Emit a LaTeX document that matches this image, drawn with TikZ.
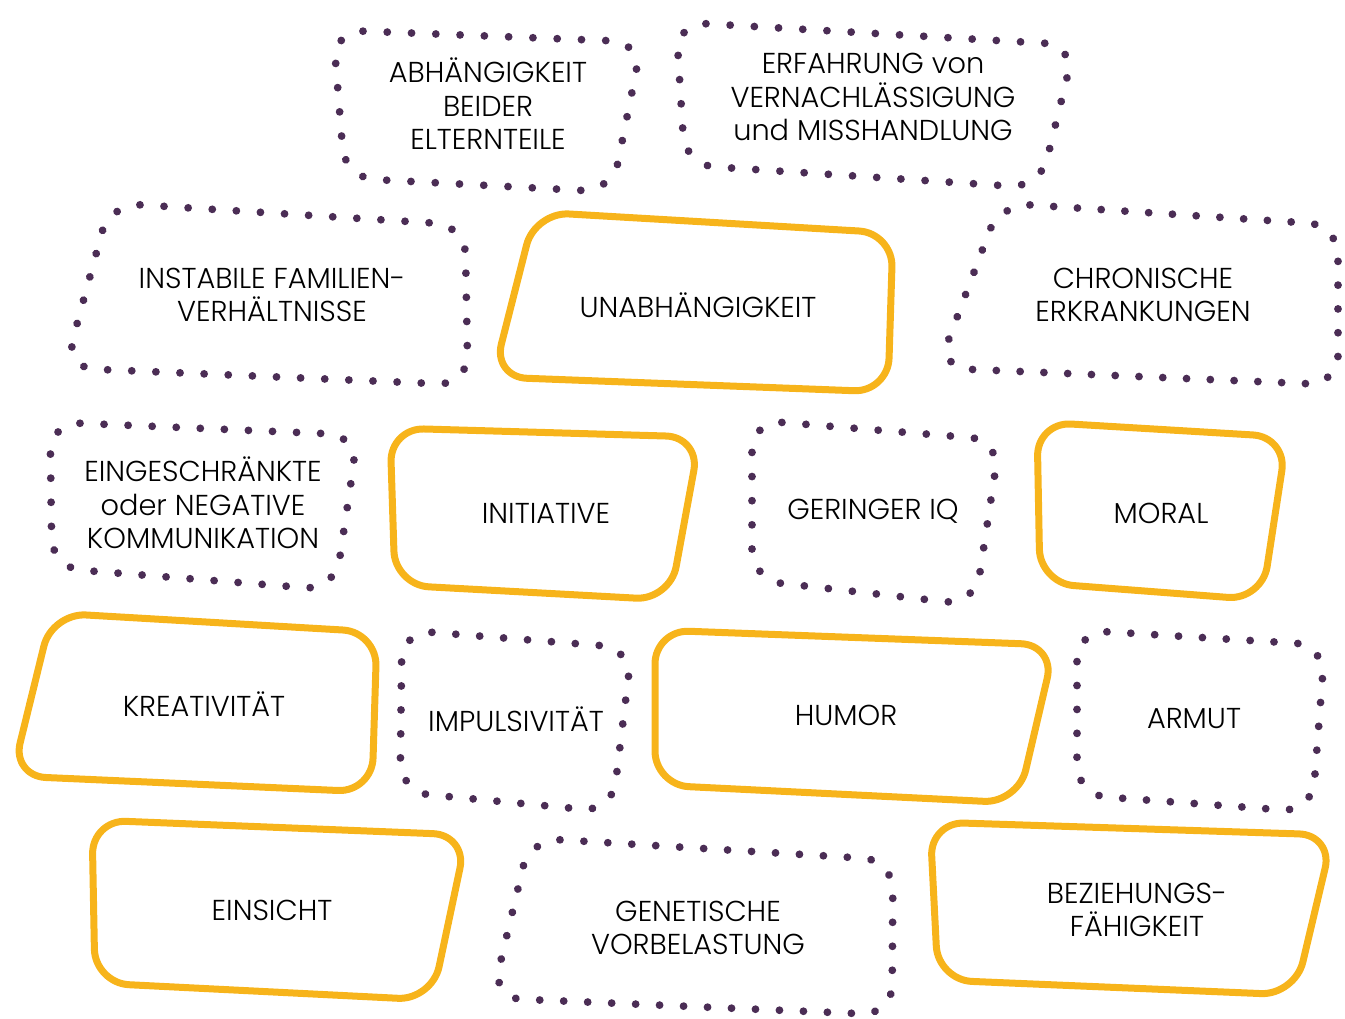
\documentclass[tikz,border=0pt]{standalone}
\usepackage{fontspec}
\usetikzlibrary{decorations.markings}
\setmainfont{Poppins Light}
\definecolor{gold}{HTML}{F7B41B}
\definecolor{plum}{HTML}{4B2D55}
\begin{document}
\begin{tikzpicture}[x=1pt, y=-1pt]
        \tikzstyle{strength}=[draw=gold, line width=7pt, rounded corners=34pt, line join=round];
        \tikzstyle{risk}=[rounded corners=30pt, decoration={markings, mark=between positions 0 and 0.999 step 1/#1 with {\fill[plum] (0,0) circle (3.9pt);}}, postaction={decorate}];
        \tikzstyle{label}=[align=center, font=\fontsize{28.8}{33.5}\selectfont, text=black];

        \useasboundingbox (0,0) rectangle (1345,1019);

        \path[risk=34] (333,30) -- (642,42) -- (612,192) -- (345,178) -- cycle;
        \node[label] (eltern) at (488,104) {ABHÄNGIGKEIT\\BEIDER\\ELTERNTEILE};

        \path[risk=41] (676,22) -- (1075,45) -- (1040,188) -- (685,165) -- cycle;
        \node[label] (vernachl) at (873,97) {ERFAHRUNG von\\VERNACHLÄSSIGUNG\\und MISSHANDLUNG};

        \path[risk=43] (110,203) -- (465,225) -- (468,385) -- (65,368) -- cycle;
        \node[label] (familie) at (272,295) {INSTABILE FAMILIEN-\\VERHÄLTNISSE};

        \draw[strength] (535,212) -- (893,233) -- (888,392) -- (493,377) -- cycle;
        \node[label] (unabh) at (698,305) {UNABHÄNGIGKEIT};

        \path[risk=43] (1000,203) -- (1338,225) -- (1338,385) -- (938,368) -- cycle;
        \node[label] (chronisch) at (1143,295) {CHRONISCHE\\ERKRANKUNGEN};

        \path[risk=35] (50,422) -- (358,435) -- (335,590) -- (52,568) -- cycle;
        \node[label] (kommunik) at (203,503) {EINGESCHRÄNKTE\\oder NEGATIVE\\KOMMUNIKATION};

        \draw[strength] (390,428) -- (700,437) -- (670,600) -- (395,585) -- cycle;
        \node[label] (initiative) at (546,513) {INITIATIVE};

        \path[risk=31] (752,420) -- (1000,440) -- (975,605) -- (752,580) -- cycle;
        \node[label] (iq) at (873,511) {GERINGER IQ};

        \draw[strength] (1037,422) -- (1287,437) -- (1262,600) -- (1040,583) -- cycle;
        \node[label] (moral) at (1161,513) {MORAL};

        \draw[strength] (52,613) -- (377,632) -- (372,792) -- (12,776) -- cycle;
        \node[label] (kreativ) at (204,704) {KREATIVITÄT};

        \path[risk=30] (402,630) -- (632,648) -- (612,812) -- (400,792) -- cycle;
        \node[label] (impuls) at (516,719) {IMPULSIVITÄT};

        \draw[strength] (655,630) -- (1055,645) -- (1018,803) -- (655,785) -- cycle;
        \node[label] (humor) at (846,715) {HUMOR};

        \path[risk=32] (1077,630) -- (1325,645) -- (1312,812) -- (1077,795) -- cycle;
        \node[label] (armut) at (1194,719) {ARMUT};

        \draw[strength] (92,820) -- (467,835) -- (432,1000) -- (95,983) -- cycle;
        \node[label] (einsicht) at (272,910) {EINSICHT};

        \path[risk=43] (530,838) -- (893,860) -- (892,1015) -- (492,998) -- cycle;
        \node[label] (genetik) at (698,928) {GENETISCHE\\VORBELASTUNG};

        \draw[strength] (930,822) -- (1333,835) -- (1295,995) -- (938,980) -- cycle;
        \node[label] (beziehung) at (1137,910) {BEZIEHUNGS-\\FÄHIGKEIT};
    \end{tikzpicture}
\end{document}
